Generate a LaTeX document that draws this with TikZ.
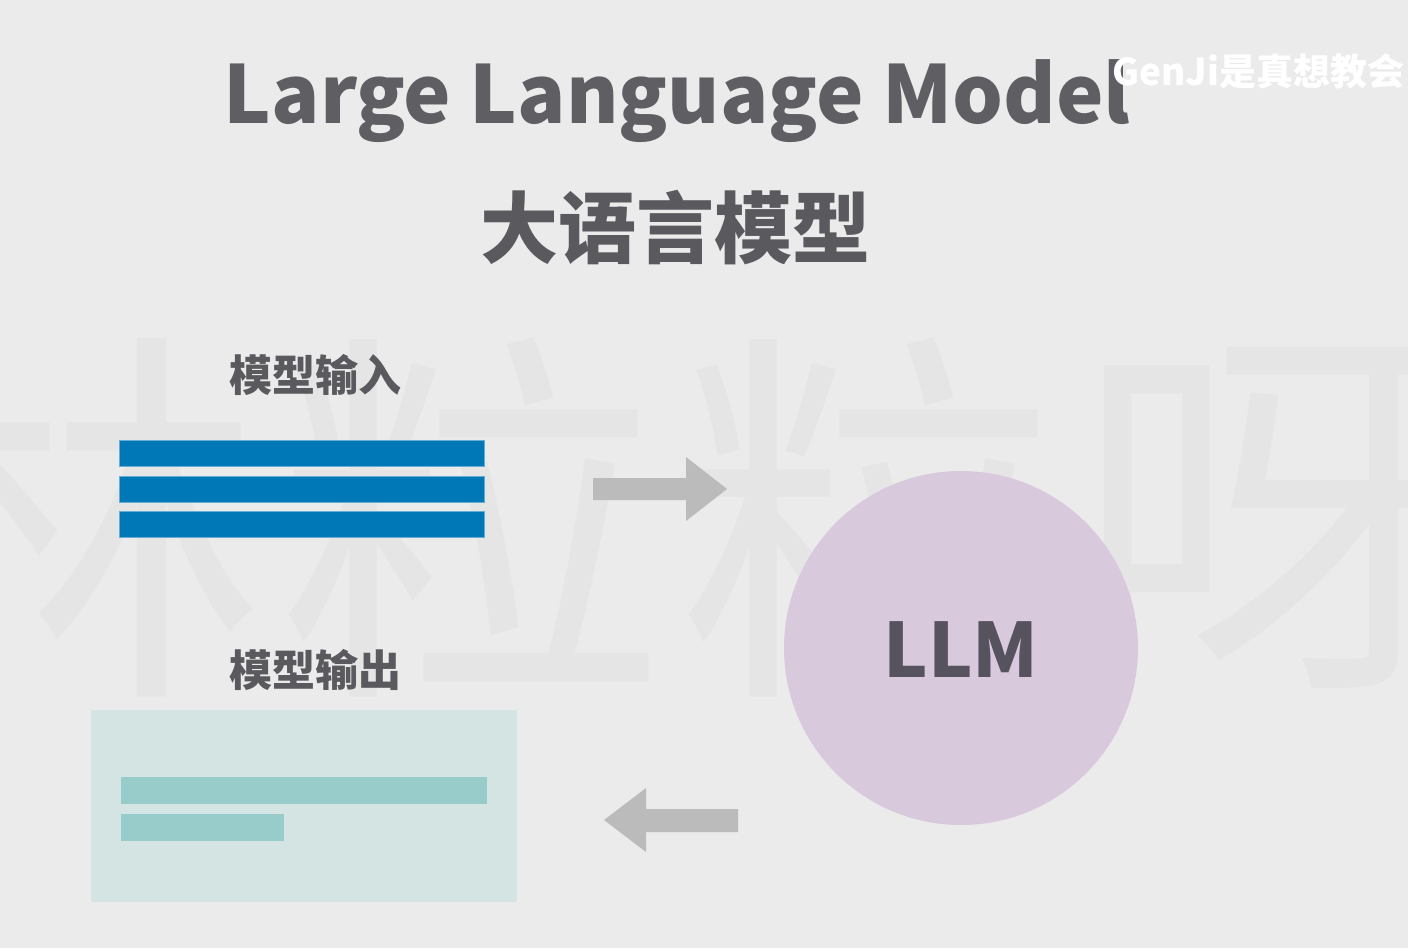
\documentclass[tikz,border=0pt]{standalone}
\usepackage{fontspec}
\setmainfont{Noto Sans CJK SC}
\definecolor{bg}{HTML}{EBEBEB}
\definecolor{wm}{HTML}{E5E5E5}
\definecolor{titlegray}{HTML}{5E5E63}
\definecolor{labelgray}{HTML}{5A5A5E}
\definecolor{inblue}{HTML}{0077B6}
\definecolor{arrowgray}{HTML}{BBBBBB}
\definecolor{llmfill}{HTML}{D9C9DD}
\definecolor{llmtext}{HTML}{56535E}
\definecolor{outbox}{HTML}{D3E4E2}
\definecolor{outbar}{HTML}{98CCCA}
\tikzset{
  txt/.style={inner sep=0pt, outer sep=0pt, anchor=base},
  bar/.style={rectangle, inner sep=0pt, outer sep=0pt},
  inbar/.style={bar, fill=inblue, draw=inblue!60!white, line width=0.8pt, minimum width=365pt, minimum height=26pt},
  outbarstyle/.style={bar, fill=outbar, minimum height=27pt},
  blockarrow/.style={fill=arrowgray},
}
\begin{document}
\begin{tikzpicture}[x=1pt,y=-1pt]
\useasboundingbox (0,0) rectangle (1408,948);
\fill[bg] (0,0) rectangle (1408,948);
% background watermark
\foreach \c/\xx [count=\i] in {林/70,粒/470,粒/870,呀/1270}{
  \node[txt, anchor=center, text=wm, font=\fontsize{390}{390}\selectfont] (wm\i) at (\xx,518) {\c};
}
% titles
\node[txt, text=titlegray, font=\fontsize{80}{80}\selectfont\bfseries] (title) at (677,123) {Large Language Model};
\node[txt, text=labelgray, font=\fontsize{78}{78}\selectfont\bfseries] (subtitle) at (675,257) {大语言模型};
\node[txt, anchor=base west, text=white, font=\fontsize{37}{37}\selectfont\bfseries] (genji) at (1112,85) {GenJi是真想教会};
% input
\node[txt, anchor=base west, text=labelgray, font=\fontsize{43}{43}\selectfont\bfseries] (inlabel) at (229,391) {模型输入};
\node[inbar] (in1) at (301.5,453) {};
\node[inbar] (in2) at (301.5,489) {};
\node[inbar] (in3) at (301.5,524) {};
% arrows
\fill[blockarrow] (593,478) -- (686,478) -- (686,457) -- (727,489) -- (686,521) -- (686,500) -- (593,500) -- cycle;
\fill[blockarrow] (738,809) -- (646,809) -- (646,788) -- (604,820) -- (646,852) -- (646,832) -- (738,832) -- cycle;
% LLM
\node[circle, fill=llmfill, minimum size=354pt, inner sep=0pt] (llm) at (961,648) {};
\node[txt, text=llmtext, font=\fontsize{75}{75}\selectfont\bfseries] (llmtext) at (961,677) {LLM};
% output
\node[txt, anchor=base west, text=labelgray, font=\fontsize{43}{43}\selectfont\bfseries] (outlabel) at (229,686) {模型输出};
\node[bar, fill=outbox, minimum width=426pt, minimum height=192pt] (outbox) at (304,806) {};
\node[outbarstyle, minimum width=366pt] (out1) at (304,790.5) {};
\node[outbarstyle, minimum width=163pt] (out2) at (202.5,827.5) {};
\end{tikzpicture}
\end{document}
